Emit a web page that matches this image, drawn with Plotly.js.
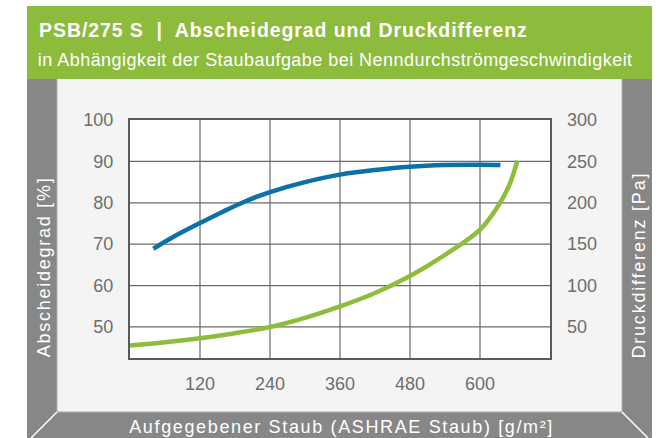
<!DOCTYPE html>
<html><head><meta charset="utf-8">
<script src="https://cdn.plot.ly/plotly-3.0.1.min.js"></script>
<style>html,body{margin:0;padding:0;background:#fff}#c{width:668px;height:438px}</style>
</head><body><div id="c"></div>
<script>
// Data
const dustBlue = [40, 80, 120, 160, 200, 240, 300, 360, 420, 480, 540, 600, 635];
const abscheidegrad = [68.9, 72.2, 75.1, 77.9, 80.5, 82.6, 85.0, 86.8, 87.9, 88.7, 89.1, 89.2, 89.1];
const dustGreen = [0, 60, 120, 180, 240, 300, 360, 420, 480, 540, 600, 630, 650, 664];
const druckdifferenz = [27.6, 31.5, 36.4, 42.5, 50, 61, 74.8, 91, 111.5, 137, 167.5, 195, 221, 251];
const xTicks = [120, 240, 360, 480, 600];
const yTicks = [50, 60, 70, 80, 90, 100];
const y2Ticks = [50, 100, 150, 200, 250, 300];
const titleText = 'PSB/275 S  |  Abscheidegrad und Druckdifferenz';
const subtitleText = 'in Abhängigkeit der Staubaufgabe bei Nenndurchströmgeschwindigkeit';
const yTitleText = 'Abscheidegrad [%]';
const y2TitleText = 'Druckdifferenz [Pa]';
const xTitleText = 'Aufgegebener Staub (ASHRAE Staub) [g/m²]';

const W = 668, H = 438, L = 130, R = 550, T = 120, B = 358;
const px = x => (x - L) / (R - L);
const py = y => (B - y) / (B - T);
const GREEN = '#8dbb3c', GREY = '#878787', BG = '#f4f4f4';
const font = "'Liberation Sans', Arial, sans-serif";

const rect = (x0, y0, x1, y1, color) => ({type:'rect', xref:'paper', yref:'paper', layer:'below',
  x0:px(x0), x1:px(x1), y0:py(y1), y1:py(y0), fillcolor:color, line:{width:0}});
const line = (x0, y0, x1, y1, color, w) => ({type:'line', xref:'paper', yref:'paper', layer:'below',
  x0:px(x0), x1:px(x1), y0:py(y0), y1:py(y1), line:{color:color, width:w}});

const shapes = [
  rect(27, 6, 652, 79, GREEN),
  rect(27, 79, 652, 438, GREY),
  rect(57, 79, 622, 412, BG),
  line(57, 79, 57, 412, '#b0b0b0', 1),
  line(622, 79, 622, 412, '#b0b0b0', 1),
  line(57, 412, 622, 412, '#b0b0b0', 1),
  line(57, 412, 31, 438, '#ffffff', 1.5),
  line(622, 412, 648, 438, '#ffffff', 1.5),
  rect(L, T, R, B, '#ffffff')
];

const ann = (text, x, y, opts) => Object.assign({text:text, xref:'paper', yref:'paper', x:px(x), y:py(y),
  showarrow:false, xanchor:'center', yanchor:'middle', font:{family:font, size:18, color:'#ffffff'}}, opts || {});

const annotations = [
  ann(titleText, 283, 29.5, {font:{family:font, size:19.5, color:'#ffffff', weight:'bold'}}),
  ann(subtitleText, 335, 59.5, {font:{family:font, size:18, color:'#ffffff'}}),
  ann(yTitleText, 43, 267.5, {textangle:-90}),
  ann(y2TitleText, 638, 265.5, {textangle:-90}),
  ann(xTitleText, 341.5, 427)
];
// target widths (px) of each text in the reference
const targets = {};
targets[titleText] = 488; targets[subtitleText] = 594; targets[yTitleText] = 179;
targets[y2TitleText] = 185; targets[xTitleText] = 423;

const traces = [
  {x:dustBlue, y:abscheidegrad, type:'scatter', mode:'lines', yaxis:'y',
   line:{color:'#0a72a8', width:4.5, shape:'spline', smoothing:1}, hoverinfo:'skip'},
  {x:dustGreen, y:druckdifferenz, type:'scatter', mode:'lines', yaxis:'y2',
   line:{color:'#8dbd3a', width:4.5, shape:'spline', smoothing:1}, hoverinfo:'skip'}
];

const tickFont = {family:font, size:18, color:'#6e6e6e'};
const layout = {
  width:W, height:H, margin:{l:L, r:W-R, t:T, b:H-B, pad:0},
  paper_bgcolor:'#ffffff', plot_bgcolor:'#ffffff', showlegend:false,
  xaxis:{range:[0,720], tickvals:xTicks, ticktext:xTicks.map(String), showgrid:false, zeroline:false,
    showline:true, linecolor:'#5a5a5a', linewidth:2, mirror:true, ticks:'', ticklabelstandoff:8, tickfont:tickFont, fixedrange:true},
  yaxis:{range:[42.5,100], tickvals:yTicks, ticktext:yTicks.map(String), showgrid:false, zeroline:false,
    showline:true, linecolor:'#5a5a5a', linewidth:2, mirror:true, ticks:'', ticklabelstandoff:11, tickfont:tickFont, fixedrange:true},
  yaxis2:{range:[12.5,300], overlaying:'y', side:'right', tickvals:y2Ticks, ticktext:y2Ticks.map(String), showgrid:false, zeroline:false,
    showline:false, ticks:'', ticklabelstandoff:16, tickfont:tickFont, fixedrange:true},
  shapes:shapes.concat(
    xTicks.map(v => ({type:'line', xref:'x', yref:'paper', x0:v, x1:v, y0:0, y1:1, layer:'below', line:{color:'#6a6a6a', width:1.2}})),
    [50,60,70,80,90].map(v => ({type:'line', xref:'paper', yref:'y', x0:0, x1:1, y0:v, y1:v, layer:'below', line:{color:'#6a6a6a', width:1.2}}))
  ),
  annotations:annotations
};
Plotly.newPlot('c', traces, layout, {staticPlot:true, displayModeBar:false}).then(gd => {
  gd.querySelectorAll('text.annotation-text').forEach(el => {
    const t = el.textContent;
    if (!(t in targets)) return;
    const len = el.getComputedTextLength();
    const n = t.length;
    const ls = (targets[t] - len) / (n - 1);
    el.setAttribute('letter-spacing', ls.toFixed(2) + 'px');
    el.style.letterSpacing = ls.toFixed(2) + 'px';
  });
});
</script></body></html>
